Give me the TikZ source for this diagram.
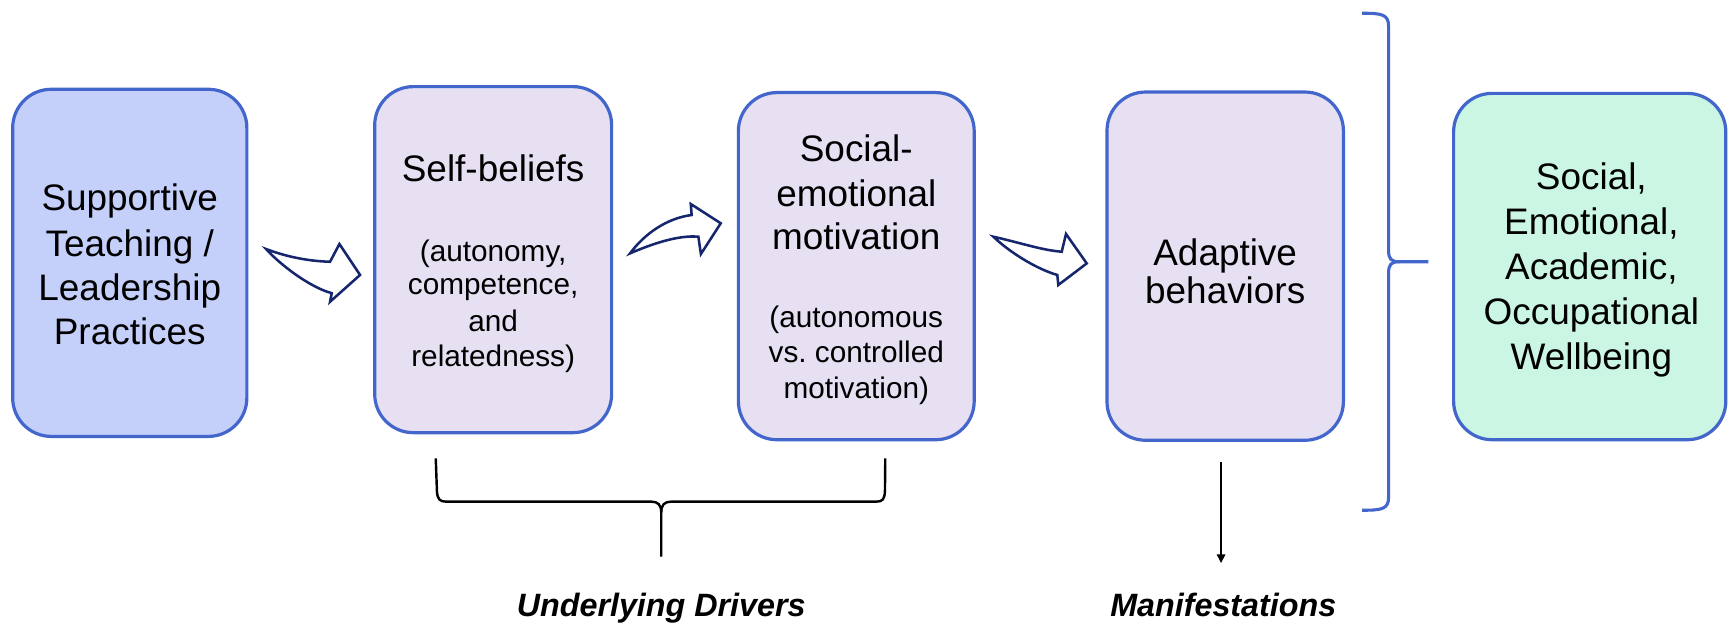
\documentclass[tikz,border=0pt]{standalone}
\usepackage{fontspec}
\setmainfont{Liberation Sans}
\usetikzlibrary{arrows.meta}
\frenchspacing
\definecolor{bordc}{RGB}{66,102,204}
\definecolor{fillA}{RGB}{197,208,250}
\definecolor{fillB}{RGB}{230,224,242}
\definecolor{fillC}{RGB}{203,246,228}
\definecolor{navy}{RGB}{22,38,110}
\tikzset{
  box/.style={draw=bordc, line width=2.9pt, rounded corners=35pt, inner sep=0pt},
  big/.style={font=\fontsize{33.5}{40}\selectfont, anchor=base, inner sep=0pt},
  small/.style={font=\fontsize{27}{32}\selectfont, anchor=base, inner sep=0pt},
  lbl/.style={font=\fontsize{29.3}{35}\selectfont\bfseries\itshape, anchor=base, inner sep=0pt},
  blockarrow/.style={draw=navy, fill=white, line width=2.3pt, line join=miter},
}
\begin{document}
\begin{tikzpicture}[x=1pt,y=-1pt]
\useasboundingbox[fill=white] (0,0) rectangle (1568,566);
% boxes
\node[box, fill=fillA, minimum width=212.5pt, minimum height=315pt] (b1) at (117.75,238.5) {};
\node[box, fill=fillB, minimum width=215pt, minimum height=314pt] (b2) at (447.5,235.6) {};
\node[box, fill=fillB, minimum width=214pt, minimum height=315pt] (b3) at (777,241.5) {};
\node[box, fill=fillB, minimum width=214.5pt, minimum height=316pt] (b4) at (1111.75,241.5) {};
\node[box, fill=fillC, minimum width=247pt, minimum height=314.3pt] (b5) at (1442.5,241.85) {};
% box 1 text
\node[big] (t11) at (117.75,191) {Supportive};
\node[big] (t12) at (117.75,232.5) {Teaching /};
\node[big] (t13) at (117.75,272.5) {Leadership};
\node[big] (t14) at (117.75,313) {Practices};
% box 2 text
\node[big] (t21) at (447.5,164.7) {Self-beliefs};
\node[small] (t22) at (447.5,237) {(autonomy,};
\node[small] (t23) at (447.5,267) {competence,};
\node[small] (t24) at (447.5,300.5) {and};
\node[small] (t25) at (447.5,332.3) {relatedness)};
% box 3 text
\node[big] (t31) at (777,146.1) {Social-};
\node[big] (t32) at (777,187) {emotional};
\node[big] (t33) at (777,226.4) {motivation};
\node[small] (t34) at (777,297.6) {(autonomous};
\node[small] (t35) at (777,328.8) {vs. controlled};
\node[small] (t36) at (777,361.2) {motivation)};
% box 4 text
\node[big] (t41) at (1111.75,240.5) {Adaptive};
\node[big] (t42) at (1111.75,275) {behaviors};
% box 5 text
\node[big] (t51) at (1444,172.3) {Social,};
\node[big] (t52) at (1444,213) {Emotional,};
\node[big] (t53) at (1444,253.8) {Academic,};
\node[big] (t54) at (1444,294.6) {Occupational};
\node[big] (t55) at (1444,335.4) {Wellbeing};
% block arrows
\draw[blockarrow] (241.5,226) .. controls (260,233) and (280,237) .. (299.5,237.5)
  -- (308,221.4) -- (326.7,249.5) -- (299.5,273.8) -- (301,266)
  .. controls (282,261) and (255,241) .. cycle;
\draw[blockarrow] (571.7,229.9) .. controls (585,212) and (605,198) .. (627.6,195.1)
  -- (626.8,185.1) -- (654,202.6) -- (636,230.5) -- (633.7,214.8)
  .. controls (615,213) and (590,222) .. cycle;
\draw[blockarrow] (901.4,214.8) .. controls (925,220) and (945,227) .. (963.4,228.4)
  -- (967.3,212.3) -- (986.1,239) -- (960.3,258.6) -- (959.4,249.5)
  .. controls (940,244) and (915,228) .. cycle;
% right brace
\draw[bordc, line width=2.8pt]
  (1236,12) .. controls (1254,12) and (1260,13) .. (1260,24) -- (1260,227)
  .. controls (1260,235) and (1262,237.5) .. (1270,237.5) -- (1296,237.5);
\draw[bordc, line width=2.8pt]
  (1270,237.5) .. controls (1262,237.5) and (1260,240) .. (1260,248) -- (1260,451)
  .. controls (1260,462) and (1254,463) .. (1236,463);
% black bracket under boxes 2-3
\draw[black, line width=2.2pt]
  (395.4,416) -- (396.5,446) .. controls (397,453) and (399,455.2) .. (405,455.2)
  -- (591,455.2) .. controls (597,455.2) and (600,458) .. (600,465) -- (600,505);
\draw[black, line width=2.2pt]
  (600,465) .. controls (600,458) and (603,455.2) .. (609,455.2)
  -- (795,455.2) .. controls (801,455.2) and (802.5,453) .. (803,446) -- (803.3,416);
% down arrow
\coordinate (dstart) at (1108,419);
\coordinate (dend) at (1108,511);
\draw[black, line width=1.8pt, -{Triangle[length=8pt,width=7.5pt]}] (dstart) -- (dend);
% labels
\node[lbl] (ld) at (600,559.5) {Underlying Drivers};
\node[lbl] (lm) at (1110,559.5) {Manifestations};
\end{tikzpicture}
\end{document}
